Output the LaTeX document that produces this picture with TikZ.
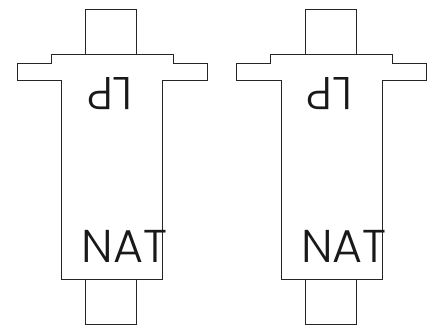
\documentclass[tikz,border=0pt]{standalone}
\usepackage{fontspec}
\setmainfont{Poppins}[UprightFont=* Light]
\tikzset{
  stub/.style={draw=black!85, line width=0.8pt, minimum width=51pt, minimum height=45pt, inner sep=0pt, outer sep=0pt},
  body/.style={draw=black!85, line width=0.8pt, line join=miter},
  tag/.style={inner sep=0pt, text=black!90, font=\fontsize{46}{46}\selectfont},
}
\begin{document}
\begin{tikzpicture}[x=1pt, y=-1pt]
  \useasboundingbox (0, 0) rectangle (428, 327);

  \node[stub] (topL) at (110.8, 31.6) {};
  \node[stub] (botL) at (110.8, 302.2) {};
  \draw[body] (61.5, 279.7) -- (61.5, 80.7) -- (17, 80.7) -- (17, 63.5) -- (51, 63.5) -- (51, 54)
    -- (173, 54) -- (173, 63.5) -- (207, 63.5) -- (207, 80.7) -- (162.5, 80.7) -- (162.5, 279.7) -- cycle;
  \node[tag, rotate=180] (lpL) at (110, 94) {LP};
  \node[tag] (natL) at (124.3, 246) {NAT};

  \node[stub] (topR) at (330.5, 31.6) {};
  \node[stub] (botR) at (330.5, 302.2) {};
  \draw[body] (281.2, 279.7) -- (281.2, 80.7) -- (236.7, 80.7) -- (236.7, 63.5) -- (270.7, 63.5) -- (270.7, 54)
    -- (392.7, 54) -- (392.7, 63.5) -- (426.7, 63.5) -- (426.7, 80.7) -- (382.2, 80.7) -- (382.2, 279.7) -- cycle;
  \node[tag, rotate=180] (lpR) at (329.7, 94) {LP};
  \node[tag] (natR) at (344, 246) {NAT};
\end{tikzpicture}
\end{document}
